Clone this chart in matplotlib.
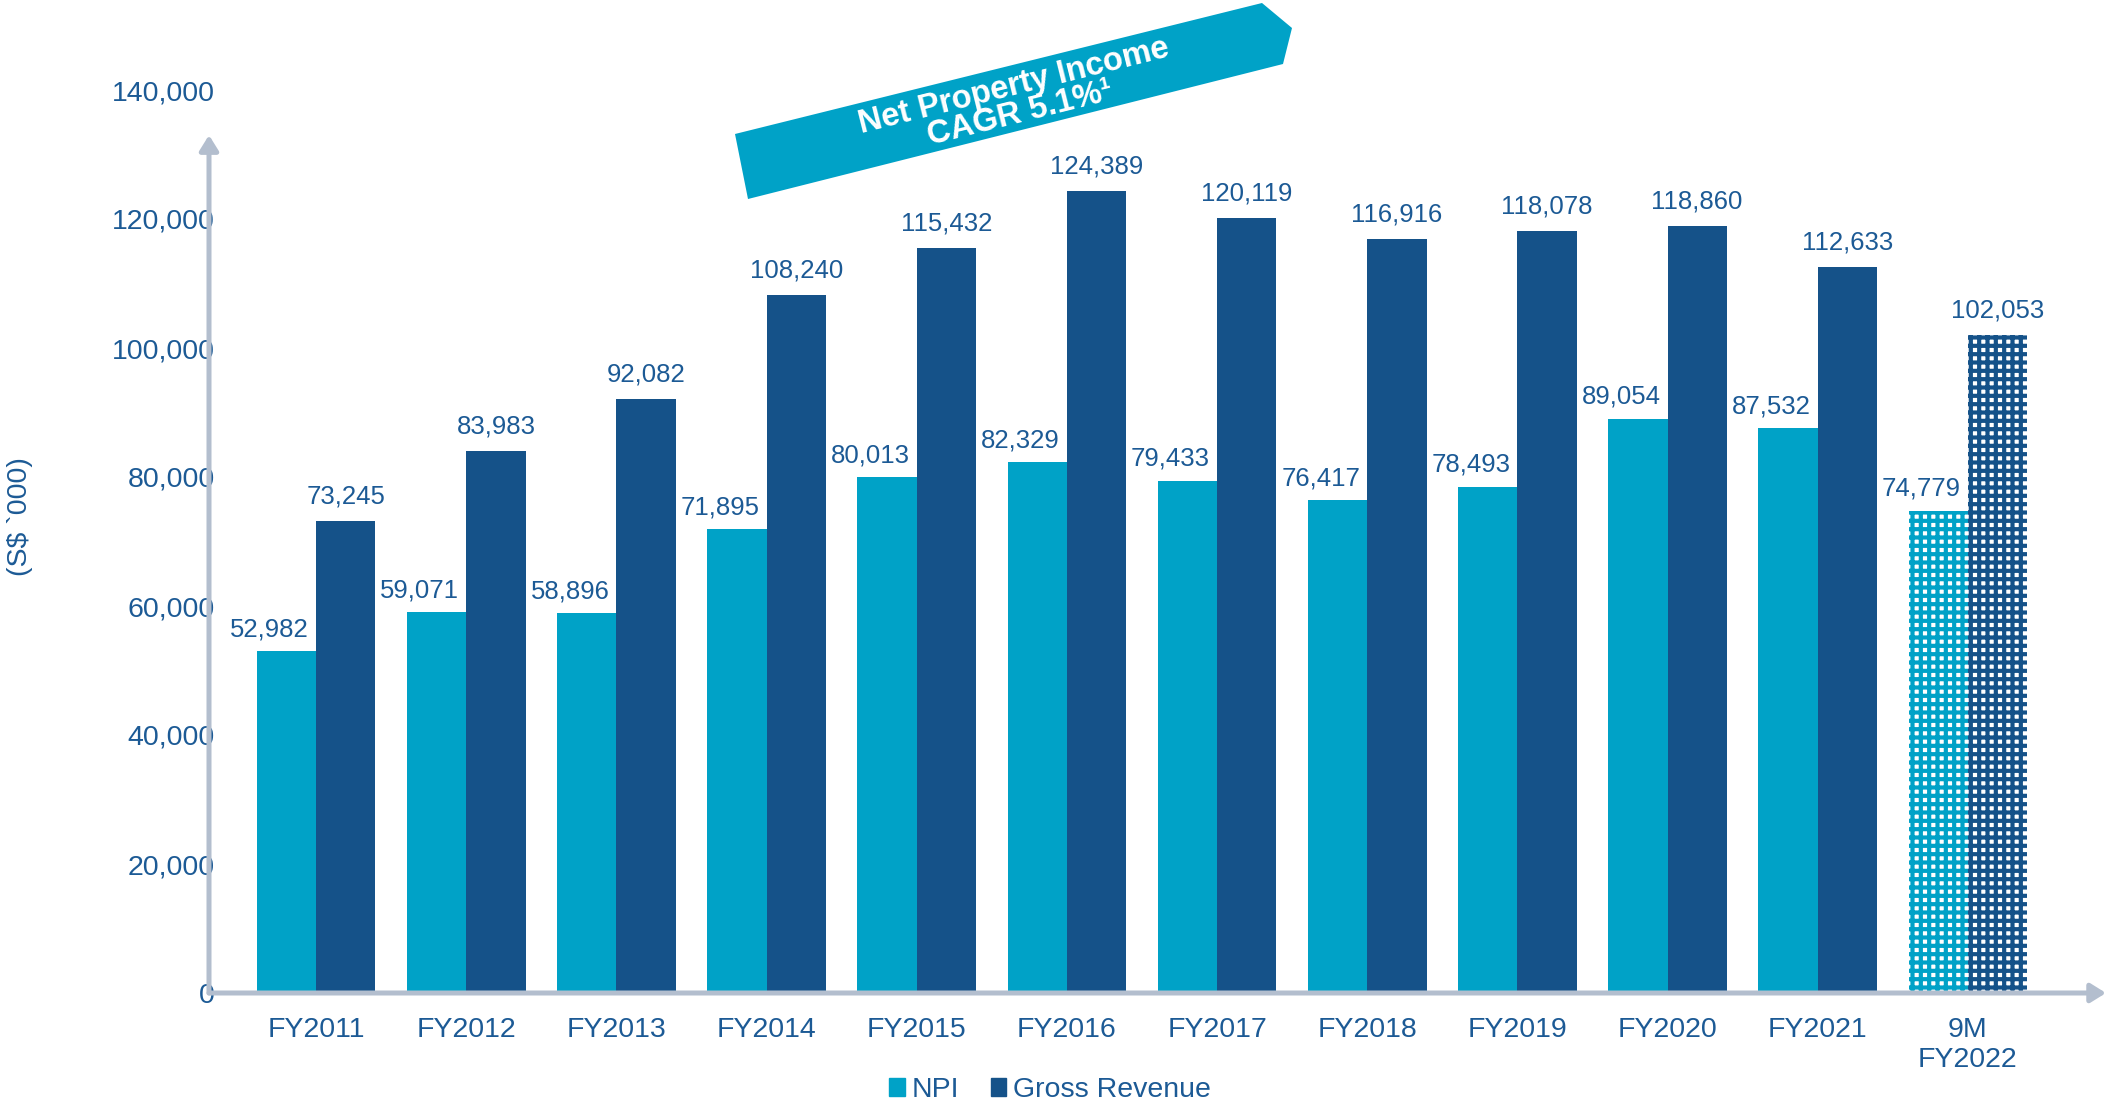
import matplotlib
matplotlib.use("Agg")
import matplotlib.pyplot as plt
from matplotlib.patches import Patch, Polygon

plt.rcParams['font.family'] = ['Liberation Sans', 'DejaVu Sans']
plt.rcParams['hatch.linewidth'] = 3.0

# Data
years = ['FY2011', 'FY2012', 'FY2013', 'FY2014', 'FY2015', 'FY2016',
         'FY2017', 'FY2018', 'FY2019', 'FY2020', 'FY2021', '9M\nFY2022']
npi = [52982, 59071, 58896, 71895, 80013, 82329,
       79433, 76417, 78493, 89054, 87532, 74779]
gross_revenue = [73245, 83983, 92082, 108240, 115432, 124389,
                 120119, 116916, 118078, 118860, 112633, 102053]
yticks = [0, 20000, 40000, 60000, 80000, 100000, 120000, 140000]

# Colours
c_npi = '#00A2C7'
c_gr = '#155289'
c_text = '#1C5A95'
c_axis = '#B3BECE'

W, H = 2106, 1104
fig = plt.figure(figsize=(W / 100, H / 100), dpi=100)
ax = fig.add_axes([209 / W, 1 - 993 / H, (W - 209) / W, (993 - 90) / H])

w = 0.395
xmin, xmax = -0.713, 11.92
n = len(years)
for i in range(n):
    hatched = i == n - 1
    for x, v, c in [(i - w / 2, npi[i], c_npi), (i + w / 2, gross_revenue[i], c_gr)]:
        if hatched:
            ax.bar(x, v, w, facecolor='white', edgecolor=c, hatch='++',
                   linewidth=0, zorder=2)
        else:
            ax.bar(x, v, w, color=c, linewidth=0, zorder=2)
    # NPI label sits right-aligned against the Gross Revenue bar
    ax.annotate(f'{npi[i]:,}', (i, npi[i]), xytext=(-5, 7), textcoords='offset points',
                ha='right', va='bottom', fontsize=18.5, color=c_text, zorder=5)
    ax.annotate(f'{gross_revenue[i]:,}', (i + w / 2, gross_revenue[i]), xytext=(0, 9),
                textcoords='offset points', ha='center', va='bottom',
                fontsize=18.5, color=c_text, zorder=5)

ax.set_xlim(xmin, xmax)
ax.set_ylim(0, 140000)
ax.set_yticks(yticks)
ax.set_yticklabels([f'{t:,}' for t in yticks])
ax.set_xticks(range(n))
ax.set_xticklabels(years)
ax.tick_params(axis='y', length=0, pad=-4, labelsize=20.5, labelcolor=c_text)
ax.tick_params(axis='x', length=0, pad=17, labelsize=20.5, labelcolor=c_text)
for s in ax.spines.values():
    s.set_visible(False)

# axis arrows
arrow = dict(arrowstyle='-|>,head_length=0.45,head_width=0.28', color=c_axis,
             lw=3.6, mutation_scale=20, shrinkA=0, shrinkB=0)
ax.annotate('', xy=(xmin, 133000), xytext=(xmin, 0), arrowprops=arrow,
            annotation_clip=False, zorder=4)
ax.annotate('', xy=(xmax, 0), xytext=(xmin, 0), arrowprops=arrow,
            annotation_clip=False, zorder=4)

fig.text(20 / W, 1 - 517 / H, '(S$ `000)', rotation=90, ha='center', va='center',
         fontsize=20.5, color=c_text)

# CAGR banner
pts = [(735, 134), (1262, 3), (1292, 28), (1283, 64), (748, 199)]
fig.add_artist(Polygon([(px / W, 1 - py / H) for px, py in pts], closed=True,
                       facecolor=c_npi, edgecolor='none',
                       transform=fig.transFigure))
fig.text(1017 / W, 1 - 100 / H, 'Net Property Income\nCAGR 5.1%\u00b9',
         rotation=14, rotation_mode='anchor', ha='center', va='center',
         multialignment='center', linespacing=0.85, fontsize=23.5,
         fontweight='bold', color='white')

handles = [Patch(color=c_npi, label='NPI'), Patch(color=c_gr, label='Gross Revenue')]
leg = fig.legend(handles=handles, loc='center', bbox_to_anchor=(0.4986, 1 - 1090 / H),
                 ncol=2, frameon=False, fontsize=20.5, handlelength=0.55,
                 handleheight=0.55, handletextpad=0.25, columnspacing=1.1)
for t in leg.get_texts():
    t.set_color(c_text)

fig.savefig('out.png', dpi=100)
